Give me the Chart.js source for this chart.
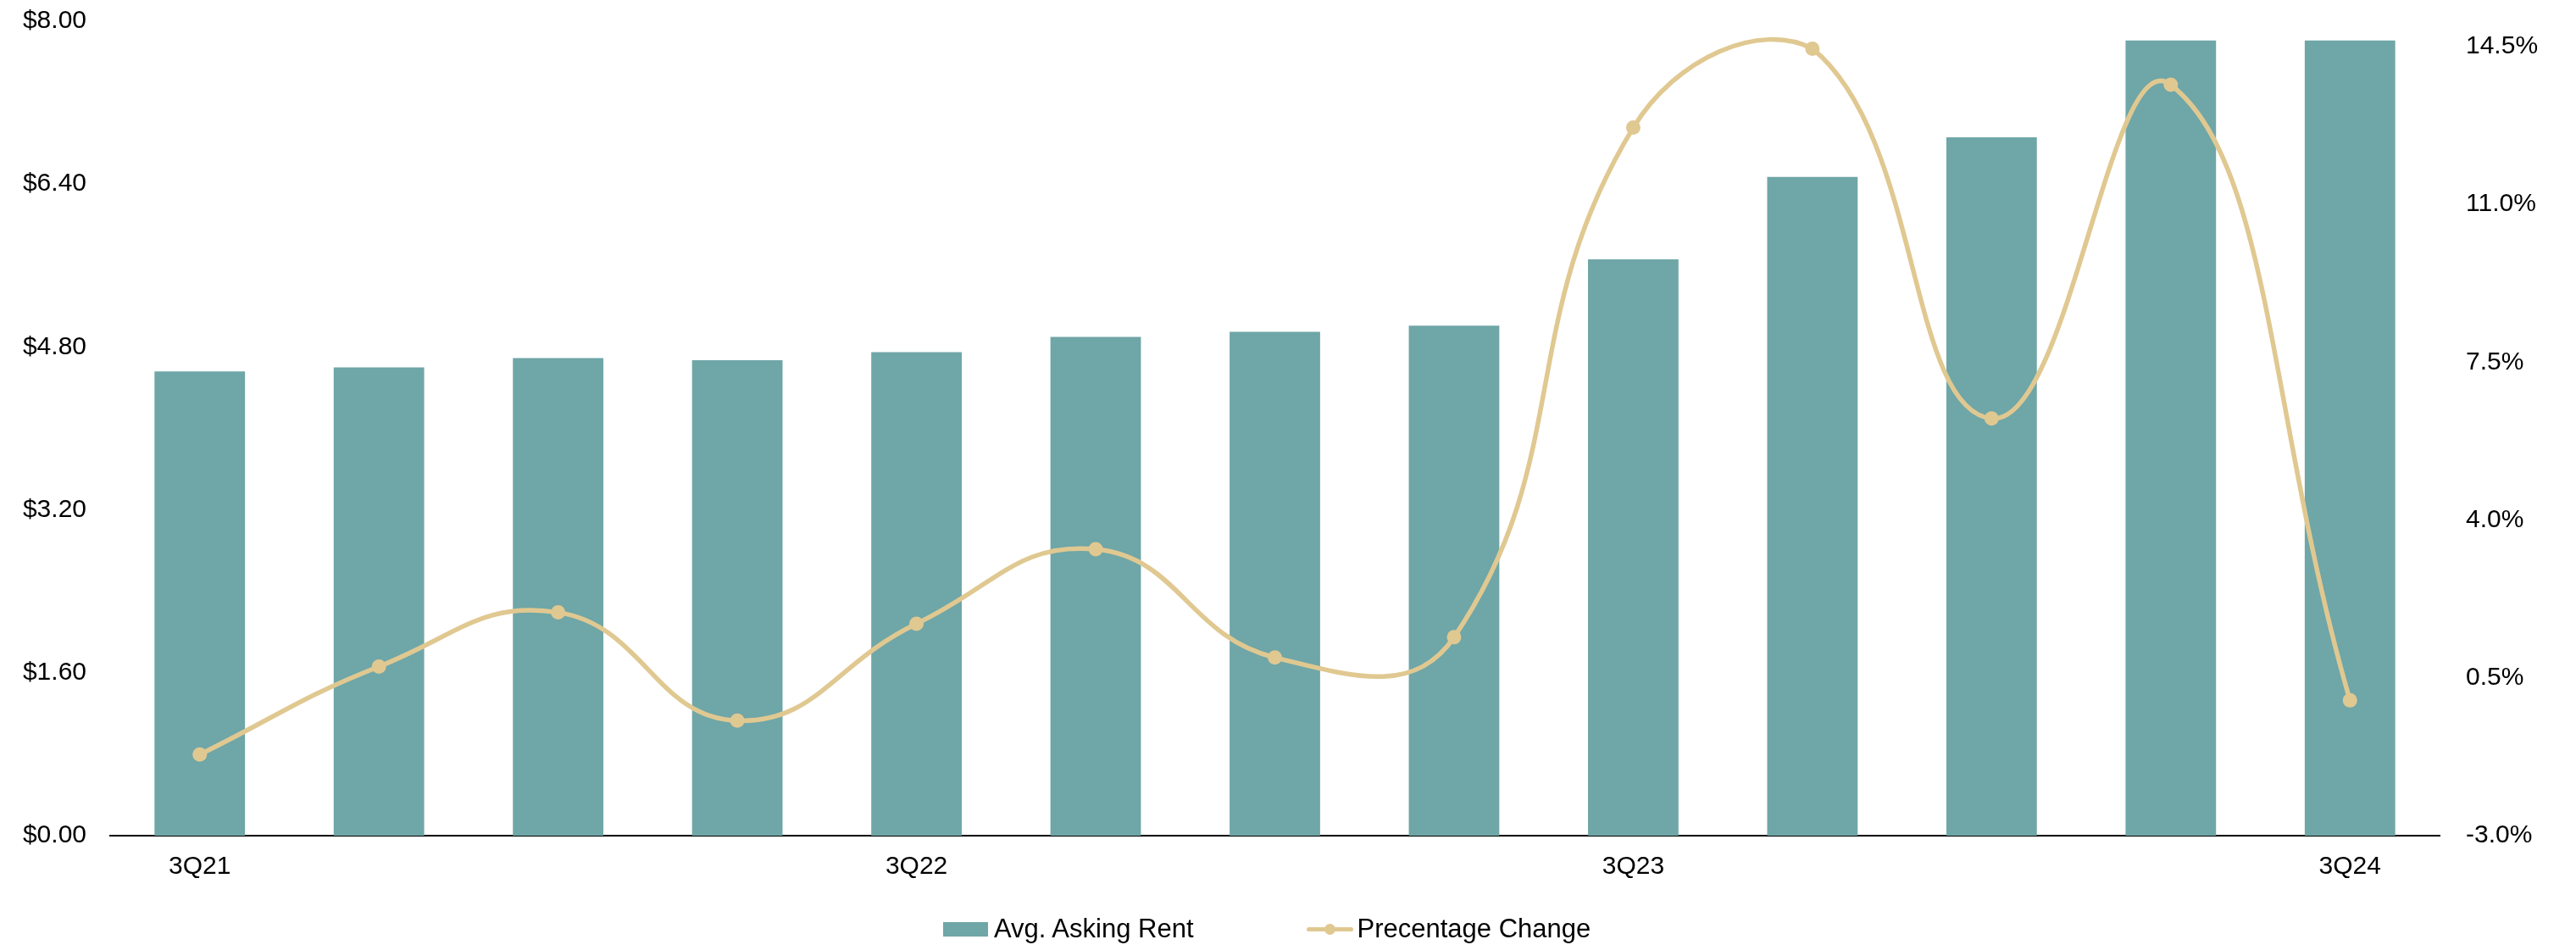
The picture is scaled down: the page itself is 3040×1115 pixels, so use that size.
<!DOCTYPE html>
<html>
<head>
<meta charset="utf-8">
<title>Avg. Asking Rent</title>
<script src="https://cdn.jsdelivr.net/npm/chart.js@4.4.1/dist/chart.umd.min.js"></script>
<style>
  html, body { margin:0; padding:0; background:#fff; overflow:hidden; }
  #wrap { position:relative; width:3040px; height:1115px; }
  #leyenda {
    position:absolute; left:1113px; top:1076px; height:40px;
    display:flex; align-items:center;
    font-family:"Liberation Sans", Arial, sans-serif; font-size:31px; color:#000;
  }
  .ley-item { display:flex; align-items:center; }
  .ley-barra { width:53px; height:17px; background:#6FA6A7; margin-right:7px; }
  .ley-linea { position:relative; width:55px; height:5px; background:#E0C891; border-radius:3px; margin-right:5px; }
  .ley-linea::after {
    content:""; position:absolute; left:21px; top:-4px; width:13px; height:13px;
    border-radius:50%; background:#E0C891;
  }
</style>
</head>
<body>
<div id="wrap">
  <canvas id="grafica" width="3040" height="1115"></canvas>
  <div id="leyenda">
    <div class="ley-item" style="margin-right:133px;"><span class="ley-barra"></span><span>Avg. Asking Rent</span></div>
    <div class="ley-item"><span class="ley-linea"></span><span>Precentage Change</span></div>
  </div>
</div>

<script>
// quarters
const trimestres = ["3Q21","4Q21","1Q22","2Q22","3Q22","4Q22","1Q23","2Q23","3Q23","4Q23","1Q24","2Q24","3Q24"];
// avg asking rent ($)
const rentaMedia = [4.56, 4.60, 4.69, 4.67, 4.75, 4.90, 4.95, 5.01, 5.66, 6.47, 6.86, 7.81, 7.81];
// quarter over quarter change (%)
const cambioPct  = [-1.2, 0.75, 1.95, -0.45, 1.7, 3.35, 0.95, 1.4, 12.7, 14.45, 6.25, 13.65, 0.0];
// axis ticks
const ticksRenta  = [0, 1.6, 3.2, 4.8, 6.4, 8.0];
const ticksCambio = [-3.0, 0.5, 4.0, 7.5, 11.0, 14.5];

const COLOR_BARRA = "#6FA6A7";
const COLOR_LINEA = "#E0C891";
const FUENTE = { family: "'Liberation Sans', Arial, sans-serif", size: 30 };

// tick padding would otherwise push the plot top down
function ajustarEje(ancho) {
  return s => { s.width = ancho; s.paddingTop = 18; s.paddingBottom = 18; };
}

new Chart(document.getElementById("grafica"), {
  type: "bar",
  data: {
    labels: trimestres,
    datasets: [
      {
        type: "line",
        label: "Precentage Change",
        data: cambioPct,
        yAxisID: "yCambio",
        borderColor: COLOR_LINEA,
        backgroundColor: COLOR_LINEA,
        borderWidth: 5.5,
        tension: 0.45,
        pointRadius: 8.5,
        pointBorderWidth: 0,
        pointBackgroundColor: COLOR_LINEA,
        fill: false,
        order: 0
      },
      {
        type: "bar",
        label: "Avg. Asking Rent",
        data: rentaMedia,
        yAxisID: "yRenta",
        backgroundColor: COLOR_BARRA,
        barPercentage: 0.505,
        categoryPercentage: 1,
        order: 1
      }
    ]
  },
  options: {
    responsive: false,
    animation: false,
    devicePixelRatio: 1,
    layout: { padding: { top: 25, left: 0, right: 0, bottom: 0 } },
    plugins: {
      legend: { display: false },
      tooltip: { enabled: false }
    },
    scales: {
      x: {
        grid: { display: false, drawTicks: false },
        border: { display: true, color: "#000", width: 2 },
        ticks: {
          font: FUENTE, color: "#000", padding: 19,
          autoSkip: false, maxRotation: 0,
          callback: (v, i) => trimestres[i].startsWith("3Q") ? trimestres[i] : ""
        },
        afterFit: s => { s.height = 129; }
      },
      yRenta: {
        position: "left",
        min: 0, max: 8,
        grid: { display: false, drawTicks: false },
        border: { display: false },
        ticks: { font: FUENTE, color: "#000", padding: 28, callback: v => "$" + v.toFixed(2) },
        afterBuildTicks: s => { s.ticks = ticksRenta.map(v => ({ value: v })); },
        afterFit: ajustarEje(130)
      },
      yCambio: {
        position: "right",
        min: -3, max: 15.06,
        grid: { display: false, drawTicks: false },
        border: { display: false },
        ticks: { font: FUENTE, color: "#000", padding: 31, callback: v => v.toFixed(1) + "%" },
        afterBuildTicks: s => { s.ticks = ticksCambio.map(v => ({ value: v })); },
        afterFit: ajustarEje(161)
      }
    }
  }
});
</script>
</body>
</html>
